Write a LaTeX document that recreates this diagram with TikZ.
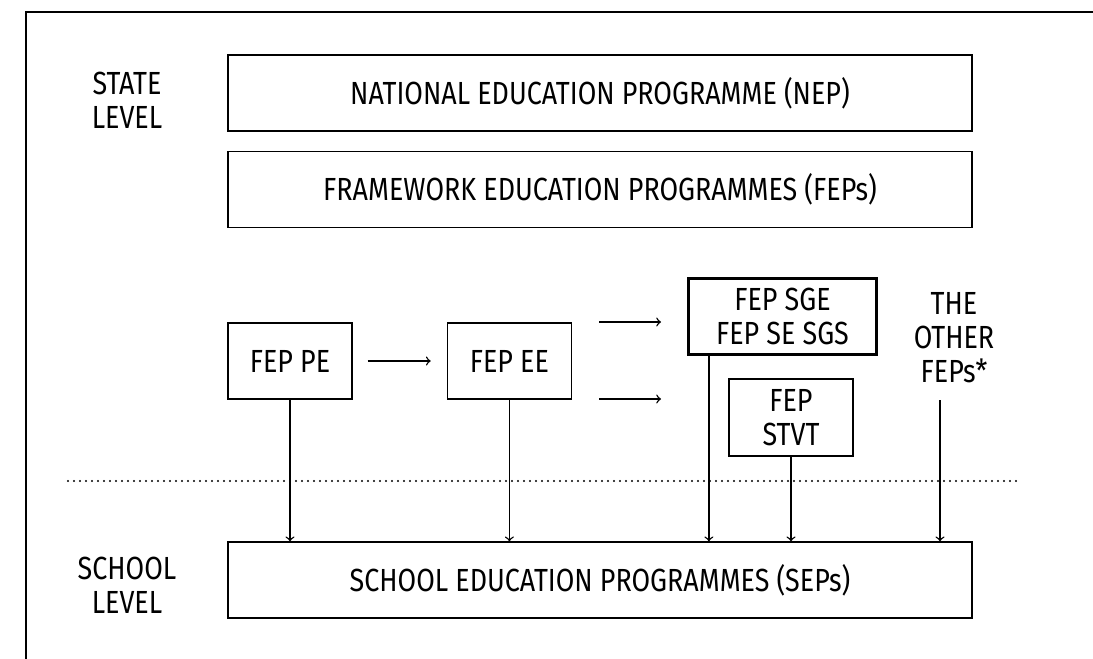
\documentclass[tikz,border=0pt]{standalone}
\usepackage{fontspec}
\setmainfont{Fira Sans}[FakeStretch=0.84]
\usetikzlibrary{arrows,positioning}

\begin{document}
\begin{tikzpicture}[x=0.5pt,y=-0.5pt]
\tikzstyle{every node}=[font=\fontsize{16}{17}\selectfont, align=center, inner sep=0pt]
\tikzstyle{wide}=[draw, line width=0.7pt, minimum width=372pt, minimum height=38pt]
\tikzstyle{fep}=[draw, line width=0.7pt, minimum width=62pt, minimum height=38pt]
\tikzstyle{link}=[->, >=to, line width=0.7pt]
\useasboundingbox (0,0) rectangle (1093,659);
\draw[line width=0.7pt] (1093,12) -- (26,12) -- (26,659);

% state level
\node (state) at (127,100) {STATE\\LEVEL};
\node[wide] (nep) at (600,93) {NATIONAL EDUCATION PROGRAMME (NEP)};
\node[wide, below=9.5pt of nep] (feps) {FRAMEWORK EDUCATION PROGRAMMES (FEPs)};

% the single programmes
\node[fep] (pe) at (290,361) {FEP PE};
\node[fep, right=47pt of pe] (ee) {FEP EE};
\node[fep, minimum width=94pt, line width=1.6pt] (sge) at (782.5,316.5) {FEP SGE\\FEP SE SGS};
\node[fep, minimum height=38.5pt] (stvt) at (791,417.5) {FEP\\STVT};
\node (others) at (954,338) {THE\\OTHER\\FEPs*};

% school level
\node (school) at (127,585) {SCHOOL\\LEVEL};
\node[wide] (sep) at (600,580) {SCHOOL EDUCATION PROGRAMMES (SEPs)};

\draw[line width=1.2pt, line cap=round, dash pattern=on 0pt off 3pt] (68,481) -- (1017,481);

\coordinate (up1) at (599,322);
\coordinate (up2) at (661,322);
\coordinate (lo1) at (599,399);
\coordinate (lo2) at (661,399);
\coordinate (oth) at (940,400);
\draw[link, shorten <=7.5pt, shorten >=8pt] (pe) -- (ee);
\draw[link] (up1) -- (up2);
\draw[link] (lo1) -- (lo2);
\draw[link] (pe.south) -- (pe.south |- sep.north);
\draw[link] (ee.south) -- (ee.south |- sep.north);
\draw[link] ([xshift=11pt]sge.south west) -- ([xshift=11pt]sge.south west |- sep.north);
\draw[link] (stvt.south) -- (stvt.south |- sep.north);
\draw[link] (oth) -- (oth |- sep.north);
\end{tikzpicture}
\end{document}
